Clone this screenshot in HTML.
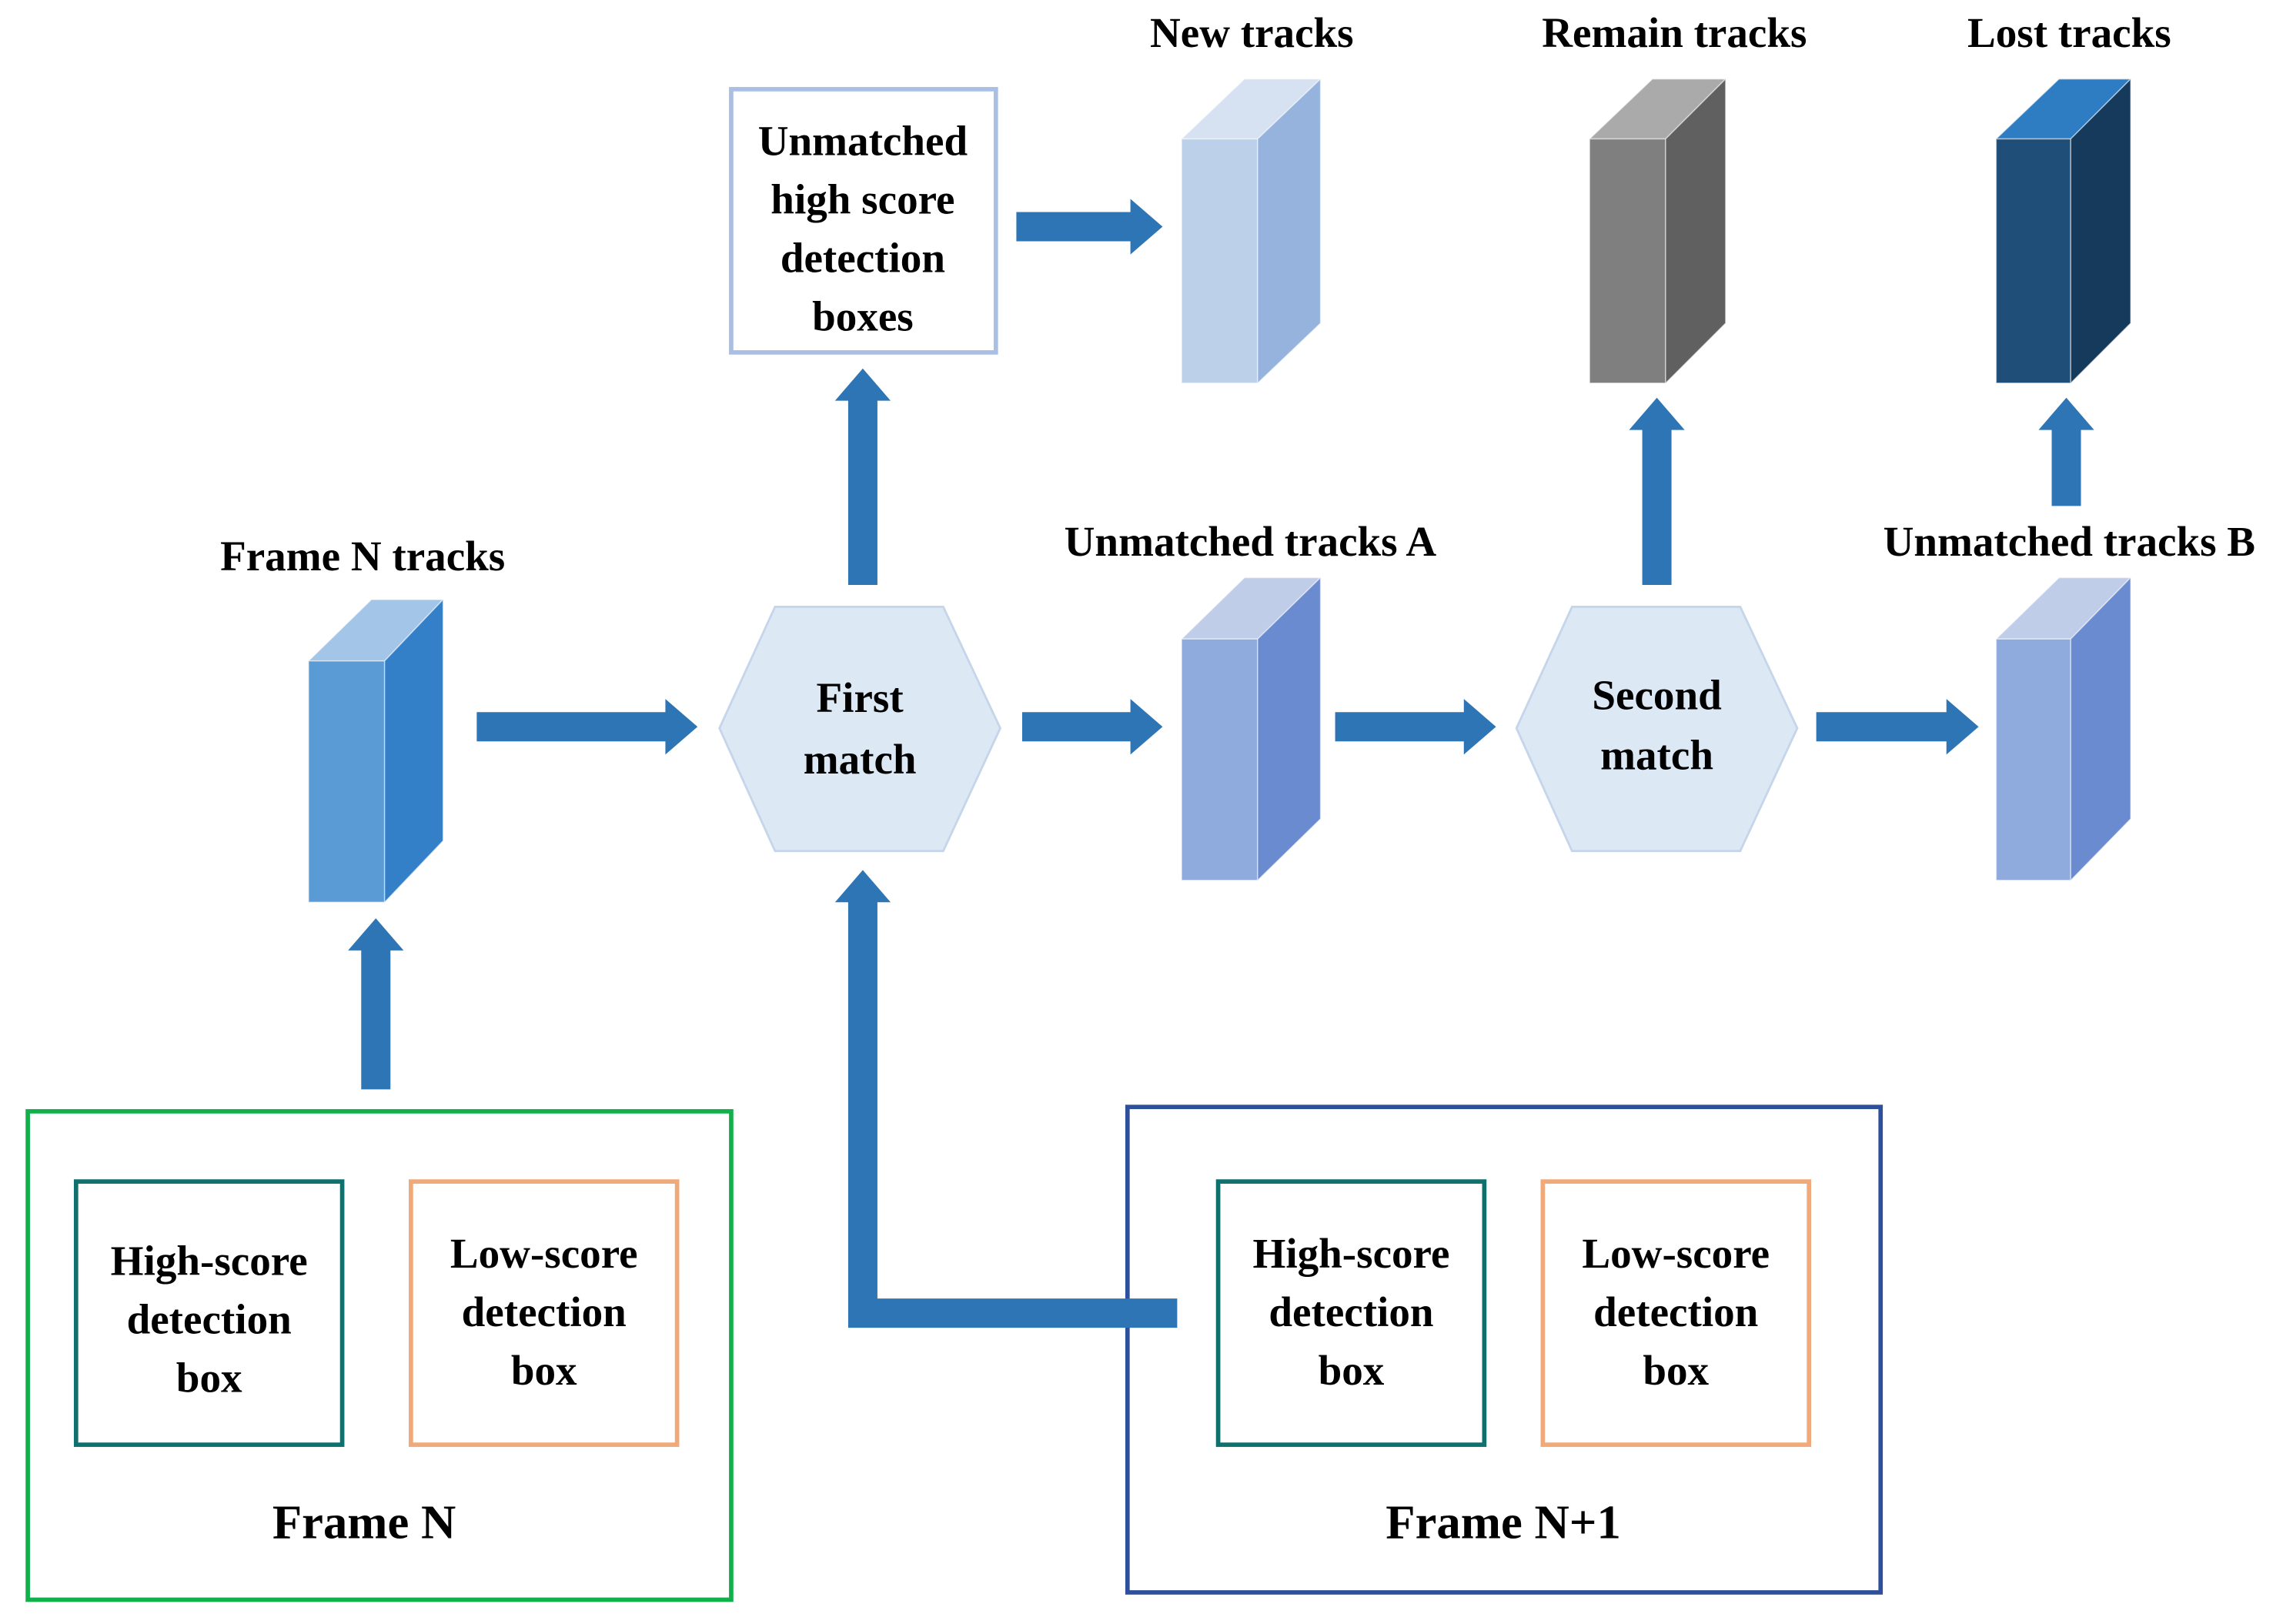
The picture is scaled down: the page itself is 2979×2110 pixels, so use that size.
<!DOCTYPE html>
<html><head><meta charset="utf-8"><style>html,body{margin:0;padding:0;background:#fff}svg{display:block}text{font-family:"Liberation Serif","Times New Roman",serif;font-weight:bold}</style></head>
<body>
<svg width="2979" height="2110" viewBox="0 0 1568 1110.6" preserveAspectRatio="none" xmlns="http://www.w3.org/2000/svg" text-anchor="middle">
<rect width="1568" height="1111" fill="#fff"/>
<g fill="#2e75b6">
<polygon points="326,487 455,487 455,478 477,497 455,516 455,507 326,507"/>
<polygon points="699,487 773,487 773,478 795,497 773,516 773,507 699,507"/>
<polygon points="913,487 1001,487 1001,478 1023,497 1001,516 1001,507 913,507"/>
<polygon points="1242,487 1331,487 1331,478 1353,497 1331,516 1331,507 1242,507"/>
<polygon points="695,145 773,145 773,136 795,155 773,174 773,165 695,165"/>
<polygon points="580,400 580,274 571,274 590,252 609,274 600,274 600,400"/>
<polygon points="1123,400 1123,294 1114,294 1133,272 1152,294 1143,294 1143,400"/>
<polygon points="1403,346 1403,294 1394,294 1413,272 1432,294 1423,294 1423,346"/>
<polygon points="247,745 247,650 238,650 257,628 276,650 267,650 267,745"/>
</g>
<g stroke="#c5d5ea" stroke-width="1.5" fill="#dde8f5">
<polygon points="492,498 530,415 645,415 684,498 645,582 530,582"/>
<polygon points="1037,498 1075,415 1190,415 1229,498 1190,582 1075,582"/>
</g>
<g stroke="#fff" stroke-width="0.8" stroke-opacity="0.5">
<polygon points="211,452 254,410 303,410 263,452" fill="#a3c6e8"/><rect x="211" y="452" width="52" height="165" fill="#5b9bd5"/><polygon points="263,452 303,410 303,575 263,617" fill="#3380c8"/>
<polygon points="808,95 851,54 903,54 860,95" fill="#d6e1f1"/><rect x="808" y="95" width="52" height="167" fill="#bcd0ea"/><polygon points="860,95 903,54 903,221 860,262" fill="#95b3dc"/>
<polygon points="1087,95 1130,54 1180,54 1139,95" fill="#aaaaaa"/><rect x="1087" y="95" width="52" height="167" fill="#7f7f7f"/><polygon points="1139,95 1180,54 1180,221 1139,262" fill="#606060"/>
<polygon points="1365,95 1408,54 1457,54 1416,95" fill="#2e7dc3"/><rect x="1365" y="95" width="51" height="167" fill="#1f4e79"/><polygon points="1416,95 1457,54 1457,221 1416,262" fill="#163a5c"/>
<polygon points="808,437 851,395 903,395 860,437" fill="#c0cde9"/><rect x="808" y="437" width="52" height="165" fill="#8faadc"/><polygon points="860,437 903,395 903,560 860,602" fill="#6a8bcf"/>
<polygon points="1365,437 1408,395 1457,395 1416,437" fill="#c0cde9"/><rect x="1365" y="437" width="51" height="165" fill="#8faadc"/><polygon points="1416,437 1457,395 1457,560 1416,602" fill="#6a8bcf"/>
</g>
<rect x="500" y="61" width="181" height="180" fill="#fff" stroke="#a9bfe3" stroke-width="3"/>
<rect x="19" y="760" width="481" height="334" fill="none" stroke="#12b04a" stroke-width="3"/>
<rect x="52" y="808" width="182" height="180" fill="none" stroke="#0f706e" stroke-width="3"/>
<rect x="281" y="808" width="182" height="180" fill="none" stroke="#f0aa7a" stroke-width="3"/>
<rect x="771" y="757" width="515" height="332" fill="none" stroke="#2e4f99" stroke-width="3"/>
<rect x="833" y="808" width="182" height="180" fill="none" stroke="#0f706e" stroke-width="3"/>
<rect x="1055" y="808" width="182" height="180" fill="none" stroke="#f0aa7a" stroke-width="3"/>
<polygon fill="#2e75b6" points="805,888 600,888 600,617 609,617 590,595 571,617 580,617 580,908 805,908"/>
<g font-size="29" fill="#000">
<text x="856" y="32">New tracks</text>
<text x="1145" y="32">Remain tracks</text>
<text x="1415" y="32">Lost tracks</text>
<text x="248" y="390">Frame N tracks</text>
<text x="855" y="380">Unmatched tracks A</text>
<text x="1415" y="380">Unmatched tracks B</text>
<text x="590" y="106">Unmatched</text>
<text x="590" y="146">high score</text>
<text x="590" y="186">detection</text>
<text x="590" y="226">boxes</text>
<text x="588" y="487">First</text>
<text x="588" y="529">match</text>
<text x="1133" y="485">Second</text>
<text x="1133" y="526">match</text>
<text x="143" y="872">High-score</text>
<text x="143" y="912">detection</text>
<text x="143" y="952">box</text>
<text x="372" y="867">Low-score</text>
<text x="372" y="907">detection</text>
<text x="372" y="947">box</text>
<text x="924" y="867">High-score</text>
<text x="924" y="907">detection</text>
<text x="924" y="947">box</text>
<text x="1146" y="867">Low-score</text>
<text x="1146" y="907">detection</text>
<text x="1146" y="947">box</text>
</g>
<g font-size="33" fill="#000">
<text x="249" y="1052">Frame N</text>
<text x="1028" y="1052">Frame N+1</text>
</g>
</svg>
</body></html>
